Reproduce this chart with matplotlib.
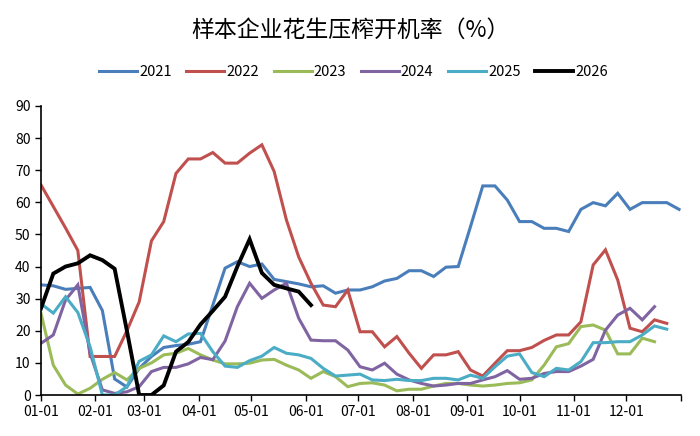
import matplotlib.pyplot as plt

plt.rcParams['font.family'] = ['Noto Sans CJK SC', 'DejaVu Sans']

# weekly readings, first week starts 01-01
years = ['2021', '2022', '2023', '2024', '2025', '2026']
colors = ['#4A7EBB', '#C0504D', '#9BBB59', '#8064A2', '#4BACC6', '#000000']

v2021 = [34.3, 34, 32.9, 33.2, 33.5, 26.3, 5, 2.5, 8.3, 12, 14.8, 15.4, 15.8, 16.6,
         28, 39.5, 41.5, 40, 40.8, 36, 35.3, 34.6, 33.7, 34, 31.7, 32.7, 32.7,
         33.7, 35.5, 36.3, 38.7, 38.7, 36.9, 39.8, 40, 52.4, 65.1, 65.1, 60.7,
         54, 54, 51.9, 51.9, 50.9, 57.8, 59.9, 58.9, 62.8, 57.8, 59.9, 59.9, 59.9, 57.8]
v2022 = [65.4, 58.7, 52, 45, 12, 12, 12, 20, 29, 48, 54, 69, 73.5, 73.5, 75.5,
         72.2, 72.2, 75.3, 77.9, 69.6, 54.5, 43, 34.8, 28, 27.5, 32.7, 19.7, 19.7,
         15, 18.2, 13, 8.3, 12.5, 12.5, 13.5, 7.8, 5.9, 9.9, 13.8, 13.8, 14.8, 17,
         18.7, 18.7, 22.8, 40.5, 45.2, 35.8, 20.8, 19.7, 23.4, 22.3]
v2023 = [25.4, 9.3, 3.1, 0.3, 2.1, 4.9, 7, 4.7, 8.3, 10, 12.5, 13, 14.5, 12.5,
         10.9, 9.7, 9.7, 9.9, 10.9, 11.1, 9.3, 7.8, 5.2, 7.3, 5.7, 2.6, 3.6, 3.8,
         3.1, 1.3, 1.8, 1.8, 2.8, 3.6, 3.6, 3.1, 2.8, 3.1, 3.6, 3.8, 4.7, 9.3, 15,
         16, 21.3, 21.8, 20.2, 12.8, 12.8, 17.7, 16.6]
v2024 = [16.1, 18.7, 29.6, 34.3, 13, 1.6, 0.5, 1, 2.6, 7.3, 8.6, 8.6, 9.7, 11.7,
         11, 16.8, 27.5, 34.8, 30.1, 32.7, 34.8, 23.9, 17.1, 16.9, 16.9, 14, 8.8,
         7.8, 9.9, 6.5, 4.7, 3.6, 2.8, 3.1, 3.6, 3.6, 4.7, 5.7, 7.6, 4.9, 5.2, 6.7,
         7.3, 7.3, 9, 11.1, 20.2, 24.9, 27, 23.4, 27.5]
v2025 = [28.4, 25.5, 30.6, 25.7, 15, 0, 0, 2.6, 10.5, 12.5, 18.4, 16.6, 19, 19.2,
         13.5, 9, 8.6, 10.7, 12.1, 14.8, 13, 12.5, 11.4, 8.3, 5.9, 6.2, 6.5, 4.7,
         4.5, 4.9, 4.5, 4.5, 5.2, 5.2, 4.7, 6.2, 5.2, 8.8, 12.1, 12.8, 7, 5.7, 8.3,
         7.8, 10.4, 16.3, 16.3, 16.6, 16.6, 18.7, 21.5, 20.5]
v2026 = [27, 37.8, 40, 41, 43.5, 42, 39.3, 20, 0, 0, 3, 13.5, 16.5, 22, 26.2,
         30.6, 40, 48.5, 38, 34.3, 33.2, 32.2, 28]
series = [v2021, v2022, v2023, v2024, v2025, v2026]

month_days = [0, 31, 59, 90, 120, 151, 181, 212, 243, 273, 304, 334]
month_labels = ['01-01', '02-01', '03-01', '04-01', '05-01', '06-01',
                '07-01', '08-01', '09-01', '10-01', '11-01', '12-01']

fig = plt.figure(figsize=(7, 4.36), dpi=100)
ax = fig.add_axes([0.0586, 0.094, 0.914, 0.663])

for name, vals, c in zip(years, series, colors):
    x = [7 * i for i in range(len(vals))]
    lw = 2.8 if name == '2026' else 2.2
    ax.plot(x, vals, color=c, lw=lw, label=name, solid_joinstyle='miter')

ax.set_xlim(0, 365)
ax.set_ylim(0, 90)
ax.set_xticks(month_days + [365])
ax.set_xticklabels(month_labels + [''])
ax.set_yticks(range(0, 91, 10))
ax.tick_params(labelsize=10, length=4, width=1, direction='out', colors='black')
for s in ['top', 'right']:
    ax.spines[s].set_visible(False)
for s in ['left', 'bottom']:
    ax.spines[s].set_linewidth(1.2)

fig.text(0.5, 0.93, '样本企业花生压榨开机率（%）', ha='center', va='center', fontsize=16.5)
fig.legend(loc='center', bbox_to_anchor=(0.505, 0.835), ncol=6, frameon=False,
           fontsize=10.5, handlelength=2.6, handletextpad=0.15, columnspacing=1.0)

plt.savefig('out.png', dpi=100)
